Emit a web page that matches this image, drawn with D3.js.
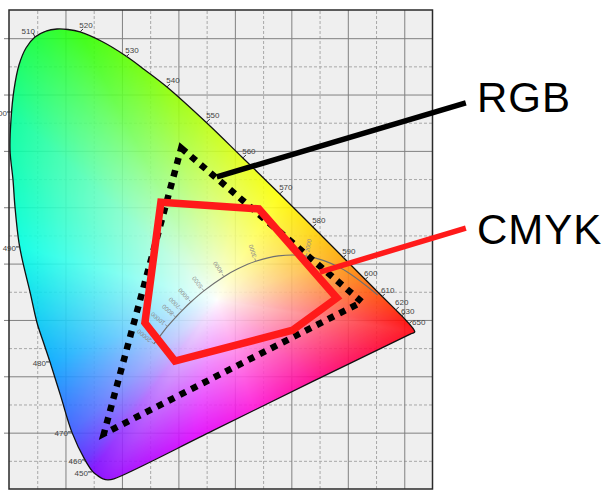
<!DOCTYPE html>
<html><head><meta charset="utf-8">
<script src="https://cdn.jsdelivr.net/npm/d3@7"></script>
<style>html,body{margin:0;padding:0;background:#fff;} svg{display:block;}</style>
</head><body>
<svg id="chart" width="608" height="491"></svg>
<script>
// ---------------- DATA ----------------
// grid (chromaticity x / y)
const gridX = [0,0.05,0.1,0.15,0.2,0.25,0.3,0.35,0.4,0.45,0.5,0.55,0.6,0.65,0.7,0.75];
const gridY = [0,0.05,0.1,0.15,0.2,0.25,0.3,0.35,0.4,0.45,0.5,0.55,0.6,0.65,0.7,0.75,0.8,0.85];

// spectral locus outline (x, y)
const locusX = [0.0850,0.0655,0.0460,0.0301,0.0177,0.0088,0.0035,0.0018,0.0071,0.0106,0.0177,0.0248,0.0372,0.0496,0.0602,0.0726,0.0920,0.1115,0.1345,0.1487,0.1575,0.1664,0.1752,0.1858,0.3611,0.5381,0.7115,0.7186,0.6974,0.6832,0.6602,0.6301,0.5912,0.5381,0.4796,0.4142,0.3504,0.2797,0.2407,0.2071,0.1664,0.1257,0.1044];
const locusY = [0.8163,0.8127,0.8021,0.7826,0.7524,0.7081,0.6548,0.6016,0.5484,0.5005,0.4366,0.4011,0.3497,0.2950,0.2627,0.2255,0.1634,0.1005,0.0516,0.0303,0.0233,0.0180,0.0162,0.0180,0.1036,0.1909,0.2752,0.2787,0.3054,0.3196,0.3426,0.3728,0.4118,0.4650,0.5236,0.5874,0.6495,0.7134,0.7436,0.7684,0.7932,0.8110,0.8154];

// wavelength marks (nm) on the locus
const waveNm = [450,460,470,480,490,500,510,520,530,540,550,560,570,580,590,600,610,620,630,650];
const waveX  = [0.1469,0.1363,0.1115,0.0726,0.0195,0.0035,0.0460,0.1257,0.2071,0.2797,0.3504,0.4142,0.4796,0.5381,0.5912,0.6301,0.6602,0.6850,0.6956,0.7080];
const waveY  = [0.0303,0.0516,0.1013,0.2255,0.4296,0.6690,0.8021,0.8110,0.7666,0.7134,0.6513,0.5874,0.5236,0.4650,0.4100,0.3710,0.3408,0.3178,0.3071,0.2929];

// Planckian locus (colour temperature K, x, y)
const planckT = [1000,1500,2000,2500,3000,3500,4000,5000,6000,7000,8000,10000,15000,20000];
const planckX = [0.6528,0.5857,0.5267,0.4770,0.4369,0.4053,0.3805,0.3451,0.3221,0.3064,0.2952,0.2807,0.2637,0.2565];
const planckY = [0.3444,0.3931,0.4133,0.4137,0.4041,0.3907,0.3768,0.3516,0.3318,0.3166,0.3048,0.2884,0.2664,0.2577];
const planckLabels = [2000,3000,4000,5000,6000,7000,8000,10000,20000];

// gamuts
const rgbX = [0.305,0.625,0.168];
const rgbY = [0.605,0.332,0.098];
const cmykX = [0.269,0.4425,0.5806,0.5027,0.2938,0.2407];
const cmykY = [0.509,0.497,0.339,0.282,0.227,0.295];

// callouts: label, start point (on gamut), end point
const calloutNames = ["RGB","CMYK"];
const calloutFromX = [0.368,0.5505];
const calloutFromY = [0.554,0.385];
const calloutToX = [0.809,0.809];
const calloutToY = [0.685,0.463];

// ---------------- STYLE ----------------
// colour of the locus edge at each wavelength mark (same order as waveNm)
const waveColors = ['#7a00ff','#5c20ff','#3a58ff','#00a8ff','#00ffe4','#00ff96','#10ff34','#2cff00','#5cff00','#8cff00','#bcff10','#e4ff10','#ffff00','#ffd800','#ffa400','#ff7000','#ff4400','#ff2400','#ff1400','#ff0000'];
// colours along the purple line, from the red end to the violet end
const purpleLineColors = ['#ff0040','#ff0090','#ff10d8','#e000ff','#a800ff'];
const whitePoint = [0.368, 0.335];

// ---------------- LAYOUT ----------------
const W = 608, H = 491;
const F = {left: 9, right: 432.5, top: 10, bottom: 489};
const x = d3.scaleLinear().domain([0, 0.75]).range([F.left, F.right]);
const y = d3.scaleLinear().domain([0, 0.85]).range([F.bottom, F.top]);
const svg = d3.select('#chart');
const isMajor = v => Math.abs(Math.round(v*10) - v*10) < 1e-6;

svg.append('rect').attr('x', F.left).attr('y', F.top)
  .attr('width', F.right - F.left).attr('height', F.bottom - F.top).attr('fill', '#efefef');

// grid via axes
function grid(axis, tr, vals, dashed) {
  const g = svg.append('g').attr('transform', tr).call(axis.tickValues(vals).tickFormat(''));
  g.select('.domain').remove();
  g.selectAll('line').attr('stroke', dashed ? '#a8a8a8' : '#808080')
    .attr('stroke-width', 1).attr('stroke-dasharray', dashed ? '3,2' : null);
}
const innerX = gridX.filter(v => v > 0 && v < 0.75), innerY = gridY.filter(v => v > 0 && v < 0.85);
grid(d3.axisBottom(x).tickSize(-(F.bottom - F.top)), `translate(0,${F.bottom})`, innerX.filter(v => !isMajor(v)), true);
grid(d3.axisLeft(y).tickSize(-(F.right - F.left)), `translate(${F.left},0)`, innerY.filter(v => !isMajor(v)), true);
grid(d3.axisBottom(x).tickSize(-(F.bottom - F.top)), `translate(0,${F.bottom})`, innerX.filter(isMajor), false);
grid(d3.axisLeft(y).tickSize(-(F.right - F.left + 5)), `translate(${F.left - 5},0)`, innerY.filter(isMajor), false);

// chromaticity fill
const locus = locusX.map((v, i) => [v, locusY[i]]);
const locusLine = d3.line().x(d => x(d[0])).y(d => y(d[1])).curve(d3.curveCatmullRomClosed.alpha(0.5));
const clipPath = svg.append('defs').append('clipPath').attr('id', 'locusClip')
  .append('path').attr('d', locusLine(locus));

const Wx = x(whitePoint[0]), Wy = y(whitePoint[1]);
// boundary radius by angle, sampled from the drawn locus path
const NB = 1440;
const radius = new Float32Array(NB).fill(0);
const pathNode = clipPath.node();
const total = pathNode.getTotalLength();
for (let s = 0; s <= 4000; s++) {
  const p = pathNode.getPointAtLength(total * s / 4000);
  const a = Math.atan2(p.y - Wy, p.x - Wx);
  const bin = Math.floor(((a + Math.PI) / (2 * Math.PI)) * NB) % NB;
  radius[bin] = Math.max(radius[bin], Math.hypot(p.x - Wx, p.y - Wy));
}
for (let k = 0; k < 3; k++) for (let i = 0; i < NB; i++) if (!radius[i]) radius[i] = Math.max(radius[(i + NB - 1) % NB], radius[(i + 1) % NB]);
// colour anchors around the white point
const anchors = waveNm.map((nm, i) => ({px: x(waveX[i]), py: y(waveY[i]), c: d3.rgb(waveColors[i])}));
const pRed = [x(waveX[waveNm.length - 1]), y(waveY[waveNm.length - 1])], pViolet = [x(waveX[0]), y(waveY[0])];
purpleLineColors.forEach((c, j) => {
  const f = (j + 1) / (purpleLineColors.length + 1);
  anchors.push({px: pRed[0] + (pViolet[0] - pRed[0]) * f, py: pRed[1] + (pViolet[1] - pRed[1]) * f, c: d3.rgb(c)});
});
anchors.forEach(a => a.ang = Math.atan2(a.py - Wy, a.px - Wx));
anchors.sort((a, b) => a.ang - b.ang);

const cv = document.createElement('canvas'); cv.width = W; cv.height = H;
const ctx = cv.getContext('2d');
const img = ctx.createImageData(W, H);
const n = anchors.length;
for (let py = Math.floor(F.top); py < F.bottom; py++) {
  for (let px = Math.floor(F.left); px < F.right; px++) {
    const dx = px + 0.5 - Wx, dy = py + 0.5 - Wy;
    const a = Math.atan2(dy, dx);
    let j = 0; while (j < n && anchors[j].ang < a) j++;
    const A = anchors[(j - 1 + n) % n], B = anchors[j % n];
    let a0 = A.ang, a1 = B.ang, aa = a;
    if (a1 <= a0) { a1 += 2 * Math.PI; if (aa < a0) aa += 2 * Math.PI; }
    const f = (aa - a0) / (a1 - a0);
    const r = A.c.r + (B.c.r - A.c.r) * f, g = A.c.g + (B.c.g - A.c.g) * f, b = A.c.b + (B.c.b - A.c.b) * f;
    const bin = Math.floor(((a + Math.PI) / (2 * Math.PI)) * NB) % NB;
    const t = Math.min(1, Math.hypot(dx, dy) / (radius[bin] || 1));
    const s = Math.pow(t, 0.9);
    const k = (py * W + px) * 4;
    img.data[k] = 255 + (r - 255) * s; img.data[k+1] = 255 + (g - 255) * s; img.data[k+2] = 255 + (b - 255) * s; img.data[k+3] = 255;
  }
}
ctx.putImageData(img, 0, 0);
svg.append('image').attr('href', cv.toDataURL()).attr('x', 0).attr('y', 0)
  .attr('width', W).attr('height', H).attr('clip-path', 'url(#locusClip)').attr('opacity', 0.9);
svg.append('path').attr('d', locusLine(locus)).attr('fill', 'none').attr('stroke', '#111').attr('stroke-width', 1.3);

// wavelength ticks & labels
waveNm.forEach((nm, i) => {
  const px = x(waveX[i]), py = y(waveY[i]);
  let t, l, anchor;
  if (nm <= 500) { t = [px - 4, py]; l = [px - 4, py + 4]; anchor = 'end'; }
  else if (nm === 510) { t = [px - 2, py - 4]; l = [px, py - 3]; anchor = 'end'; }
  else if (nm === 650) { t = [px + 3, py - 3]; l = [px + 10, py + 1]; anchor = 'middle'; }
  else { t = [px + 3, py - 3]; l = [px + 6, py - (nm === 620 ? 5 : nm === 630 ? 2 : 4)]; anchor = 'middle'; }
  svg.append('line').attr('x1', px).attr('y1', py).attr('x2', t[0]).attr('y2', t[1])
    .attr('stroke', '#333').attr('stroke-width', 1);
  svg.append('text').attr('x', l[0]).attr('y', l[1]).attr('text-anchor', anchor)
    .attr('font-family', 'Liberation Sans, Arial, sans-serif').attr('font-size', 8)
    .attr('fill', '#444').text(nm);
});

// Planckian locus
const planck = planckT.map((t, i) => [planckX[i], planckY[i]]);
svg.append('path').attr('d', d3.line().x(d => x(d[0])).y(d => y(d[1])).curve(d3.curveCatmullRom)(planck))
  .attr('fill', 'none').attr('stroke', '#6f6f6f').attr('stroke-width', 1.2);
planckLabels.forEach(T => {
  const i = planckT.indexOf(T);
  const a = planck[Math.max(0, i - 1)], b = planck[Math.min(planck.length - 1, i + 1)];
  let tx = x(a[0]) - x(b[0]), ty = y(a[1]) - y(b[1]);
  const len = Math.hypot(tx, ty); tx /= len; ty /= len;
  let nx = ty, ny = -tx; if (ny > 0) { nx = -nx; ny = -ny; }
  const px = x(planck[i][0]), py = y(planck[i][1]);
  svg.append('line').attr('x1', px).attr('y1', py).attr('x2', px + nx*3).attr('y2', py + ny*3)
    .attr('stroke', '#8a8a8a').attr('stroke-width', 0.8);
  const ang = Math.atan2(ny, nx) * 180 / Math.PI;
  svg.append('text').attr('transform', `translate(${px + nx*4},${py + ny*4}) rotate(${ang})`)
    .attr('dy', '0.35em').attr('font-family', 'Liberation Sans, Arial, sans-serif').attr('font-size', 6)
    .attr('fill', '#8a8a8a').text(T);
});

// RGB gamut (dotted) and CMYK gamut
const poly = d3.line().x(d => x(d[0])).y(d => y(d[1])).curve(d3.curveLinearClosed);
svg.append('path').attr('d', poly(rgbX.map((v, i) => [v, rgbY[i]])))
  .attr('fill', 'none').attr('stroke', '#000').attr('stroke-width', 6.5)
  .attr('stroke-dasharray', '6.5,6.3').attr('stroke-linejoin', 'miter');
svg.append('path').attr('d', poly(cmykX.map((v, i) => [v, cmykY[i]])))
  .attr('fill', 'none').attr('stroke', '#ff1a1a').attr('stroke-width', 7.5)
  .attr('stroke-linejoin', 'miter');

// frame
svg.append('rect').attr('x', F.left).attr('y', F.top)
  .attr('width', F.right - F.left).attr('height', F.bottom - F.top)
  .attr('fill', 'none').attr('stroke', '#2a2a2a').attr('stroke-width', 1.5);

// callouts
const calloutColor = ['#000', '#ff1a1a'];
const calloutBase = [112, 244];
calloutNames.forEach((name, i) => {
  svg.append('line').attr('x1', x(calloutFromX[i])).attr('y1', y(calloutFromY[i]))
    .attr('x2', x(calloutToX[i])).attr('y2', y(calloutToY[i]))
    .attr('stroke', calloutColor[i]).attr('stroke-width', 5.5);
  svg.append('text').attr('x', 477).attr('y', calloutBase[i])
    .attr('font-family', 'Liberation Sans, Arial, sans-serif').attr('font-size', 42)
    .attr('letter-spacing', 1).attr('fill', '#000').text(name);
});
</script>
</body></html>
